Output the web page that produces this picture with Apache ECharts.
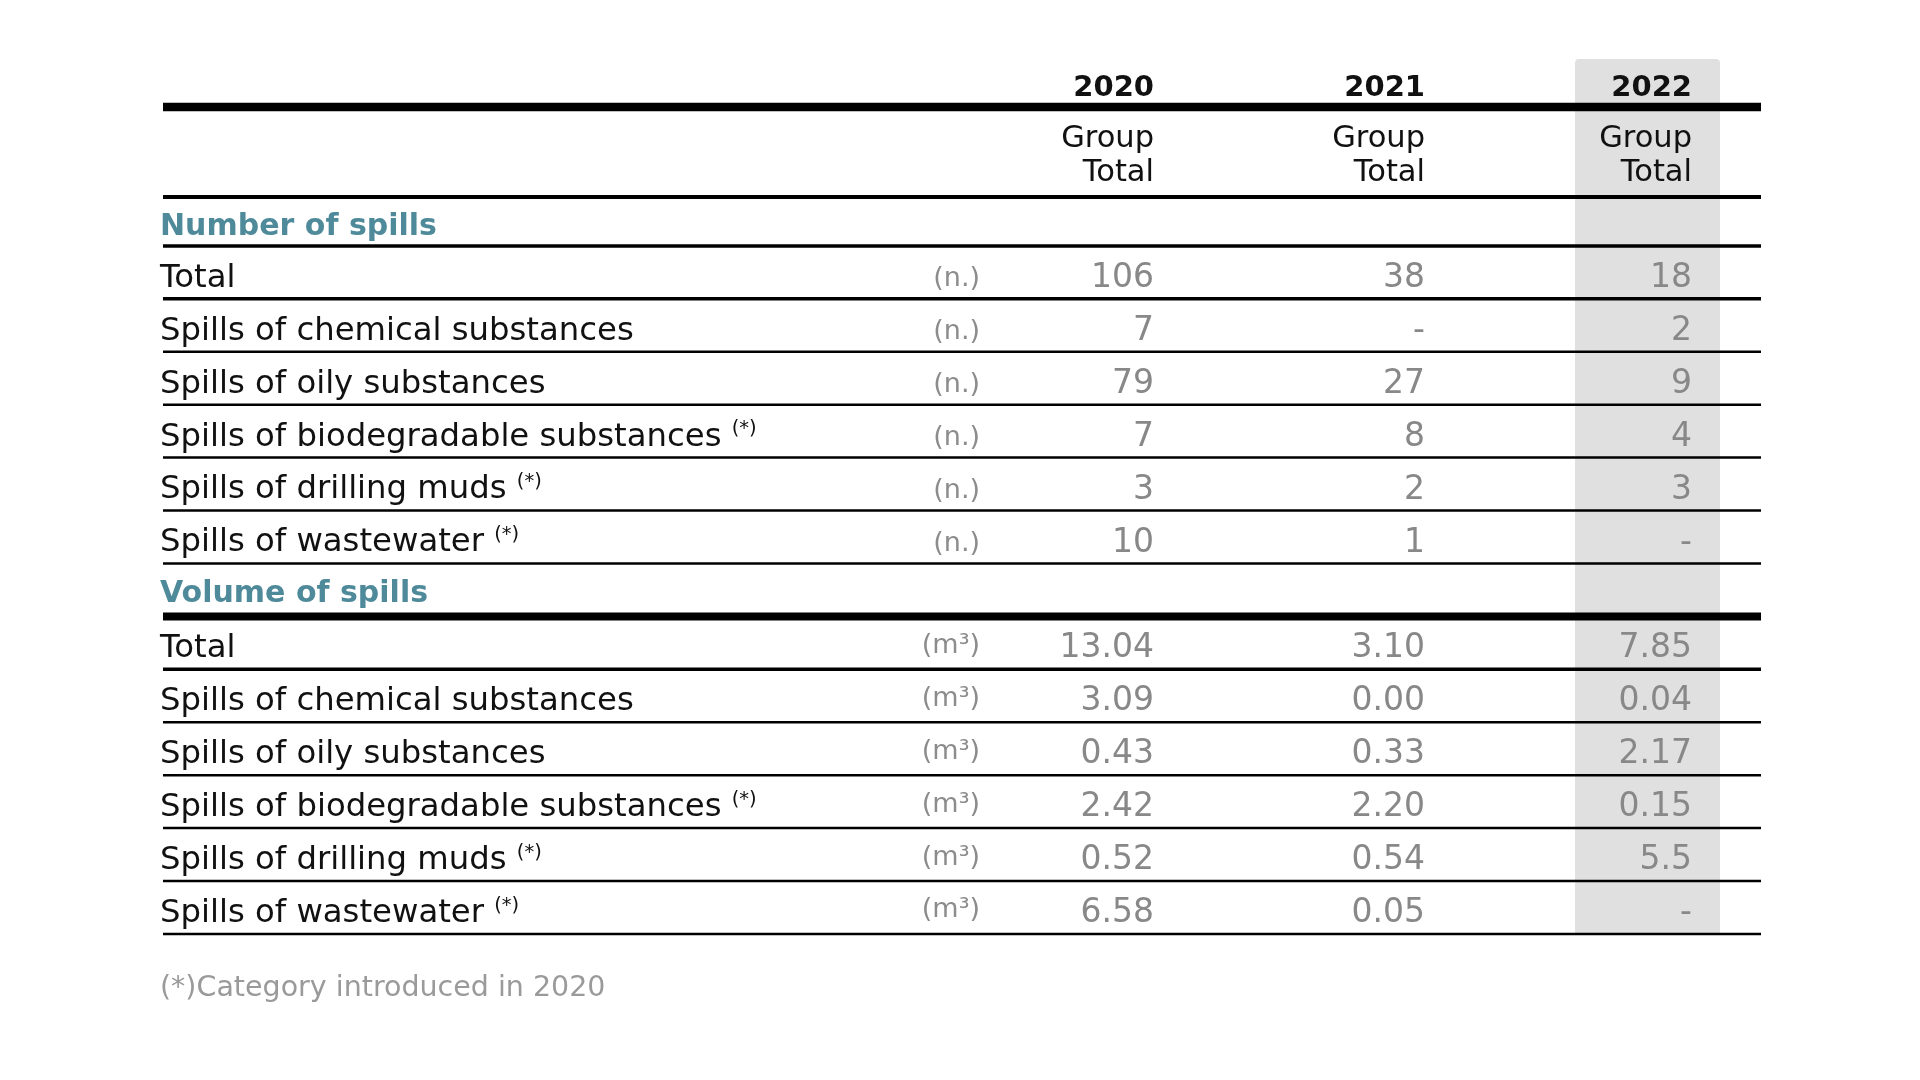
<!DOCTYPE html>
<html>
<head>
<meta charset="utf-8">
<script src="https://cdn.jsdelivr.net/npm/echarts@6.0.0/dist/echarts.min.js"></script>
<style>
html,body{margin:0;padding:0;background:#ffffff;}
#chart{width:1920px;height:1080px;}
</style>
</head>
<body>
<div id="chart"></div>
<script>
// ---------------- DATA ----------------
const years = ['2020', '2021', '2022'];
const columnHeader = 'Group\nTotal';
const sectionTitles = ['Number of spills', 'Volume of spills'];
const sectionUnits = ['(n.)', '(m³)'];
const categories = [
  'Total',
  'Spills of chemical substances',
  'Spills of oily substances',
  'Spills of biodegradable substances',
  'Spills of drilling muds',
  'Spills of wastewater'
];
const footnoted = [false, false, false, true, true, true];
const spills2020 = [106, 7, 79, 7, 3, 10];
const spills2021 = [38, null, 27, 8, 2, 1];
const spills2022 = [18, 2, 9, 4, 3, null];
const volume2020 = ['13.04', '3.09', '0.43', '2.42', '0.52', '6.58'];
const volume2021 = ['3.10', '0.00', '0.33', '2.20', '0.54', '0.05'];
const volume2022 = ['7.85', '0.04', '2.17', '0.15', '5.5', null];
const footnoteText = '(*)Category introduced in 2020';

// ---------------- LAYOUT (x in layout px, y in row units) ----------------
const L = {
  font: '"DejaVu Sans"',
  labelX: 160, unitR: 980, colR: [1154, 1425, 1692],
  lineL: 163, lineR: 1761,
  shadeL: 1575, shadeR: 1720, shadeTop: -3.033, shadeBottom: 13.5,
  yearY: -2.545, subHeadY: -1.27, footY: 14.47,
  rowsPerSection: 7,
  glyphDy: 3.5,
  rowDy: 2.5,
  unitDy: [1, -3]
};
// rules: [row position, line width]
const rules = [
  [-2.126, 8.5], [-0.425, 4],
  [0.5, 3.5], [1.5, 3.5], [2.5, 2.5], [3.5, 2.5], [4.5, 2.5], [5.5, 2.5], [6.5, 2.5],
  [7.5, 8], [8.5, 3.5], [9.5, 2.5], [10.5, 2.5], [11.5, 2.5], [12.5, 2.5], [13.5, 2.5]
];

const STYLE = {
  year:    { fontSize: 29, fontWeight: 'bold', fill: '#111111' },
  sub:     { fontSize: 30.5, fontWeight: 'normal', fill: '#111111', lineHeight: 34 },
  section: { fontSize: 30, fontWeight: 'bold', fill: '#4f8a9b' },
  label:   { fontSize: 32.3, fontWeight: 'normal', fill: '#111111' },
  unit:    { fontSize: 27, fontWeight: 'normal', fill: '#8c8c8c' },
  value:   { fontSize: 33, fontWeight: 'normal', fill: '#888888' },
  foot:    { fontSize: 28.5, fontWeight: 'normal', fill: '#9a9a9a' }
};

// ---------------- BUILD CELLS ----------------
const sections = [
  { title: sectionTitles[0], unit: sectionUnits[0], cols: [spills2020, spills2021, spills2022] },
  { title: sectionTitles[1], unit: sectionUnits[1], cols: [volume2020, volume2021, volume2022] }
];
const rowDy = L.glyphDy + L.rowDy;
const cells = [];
years.forEach((yr, j) => {
  cells.push({ x: L.colR[j], y: L.yearY, text: yr, align: 'right', kind: 'year', dy: L.glyphDy });
  cells.push({ x: L.colR[j], y: L.subHeadY, text: columnHeader, align: 'right', kind: 'sub', dy: L.glyphDy });
});
sections.forEach((sec, s) => {
  const base = s * L.rowsPerSection;
  cells.push({ x: L.labelX, y: base, text: sec.title, align: 'left', kind: 'section', dy: rowDy + (s === 0 ? 1.5 : -2) });
  categories.forEach((c, i) => {
    const y = base + 1 + i;
    cells.push({
      x: L.labelX, y: y, align: 'left', kind: 'label', dy: rowDy, rich: true,
      text: footnoted[i] ? '{m|' + c + ' }{sup|(*)}' : '{m|' + c + '}'
    });
    cells.push({ x: L.unitR, y: y, text: sec.unit, align: 'right', kind: 'unit', dy: rowDy + L.unitDy[s] });
    sec.cols.forEach((arr, j) => {
      const v = arr[i];
      cells.push({ x: L.colR[j], y: y, text: v == null ? '-' : String(v), align: 'right', kind: 'value', dy: rowDy });
    });
  });
});
cells.push({ x: L.labelX, y: L.footY, text: footnoteText, align: 'left', kind: 'foot', dy: L.glyphDy });

// ---------------- CHART ----------------
const chart = echarts.init(document.getElementById('chart'), null, { renderer: 'canvas' });
chart.setOption({
  backgroundColor: '#ffffff',
  animation: false,
  grid: { left: 0, right: 0, top: 7.8, bottom: 13.8 },
  xAxis: { type: 'value', min: 0, max: 1920, show: false },
  yAxis: { type: 'value', min: -4, max: 16, inverse: true, show: false },
  series: [
    {
      type: 'custom', name: 'shade', z: 1, silent: true,
      data: [[L.shadeL, L.shadeTop, L.shadeR, L.shadeBottom]],
      renderItem: function (params, api) {
        const p0 = api.coord([api.value(0), api.value(1)]);
        const p1 = api.coord([api.value(2), api.value(3)]);
        return {
          type: 'rect',
          shape: { x: p0[0], y: p0[1], width: p1[0] - p0[0], height: p1[1] - p0[1], r: [4, 4, 0, 0] },
          style: { fill: '#e0e0e0' }
        };
      }
    },
    {
      type: 'custom', name: 'rules', z: 2, silent: true,
      data: rules,
      renderItem: function (params, api) {
        const y = api.value(0);
        const w = api.value(1);
        const a = api.coord([L.lineL, y]);
        const b = api.coord([L.lineR, y]);
        return {
          type: 'rect',
          shape: { x: a[0], y: a[1] - w / 2, width: b[0] - a[0], height: w },
          style: { fill: '#000000' }
        };
      }
    },
    {
      type: 'custom', name: 'cells', z: 3, silent: true,
      data: cells.map(c => [c.x, c.y]),
      renderItem: function (params, api) {
        const c = cells[params.dataIndex];
        const p = api.coord([api.value(0), api.value(1)]);
        const st = STYLE[c.kind];
        const style = {
          text: c.text,
          x: p[0], y: p[1] + c.dy,
          align: c.align, verticalAlign: 'middle',
          fontFamily: L.font, fontSize: st.fontSize, fontWeight: st.fontWeight,
          fill: st.fill
        };
        if (st.lineHeight) style.lineHeight = st.lineHeight;
        if (c.rich) {
          style.rich = {
            m: { fontFamily: L.font, fontSize: st.fontSize, fill: st.fill, color: st.fill, lineHeight: 36 },
            sup: { fontFamily: L.font, fontSize: 19.5, fill: st.fill, color: st.fill, verticalAlign: 'top', lineHeight: 36 }
          };
        }
        return { type: 'text', style: style };
      }
    }
  ]
});
</script>
</body>
</html>
